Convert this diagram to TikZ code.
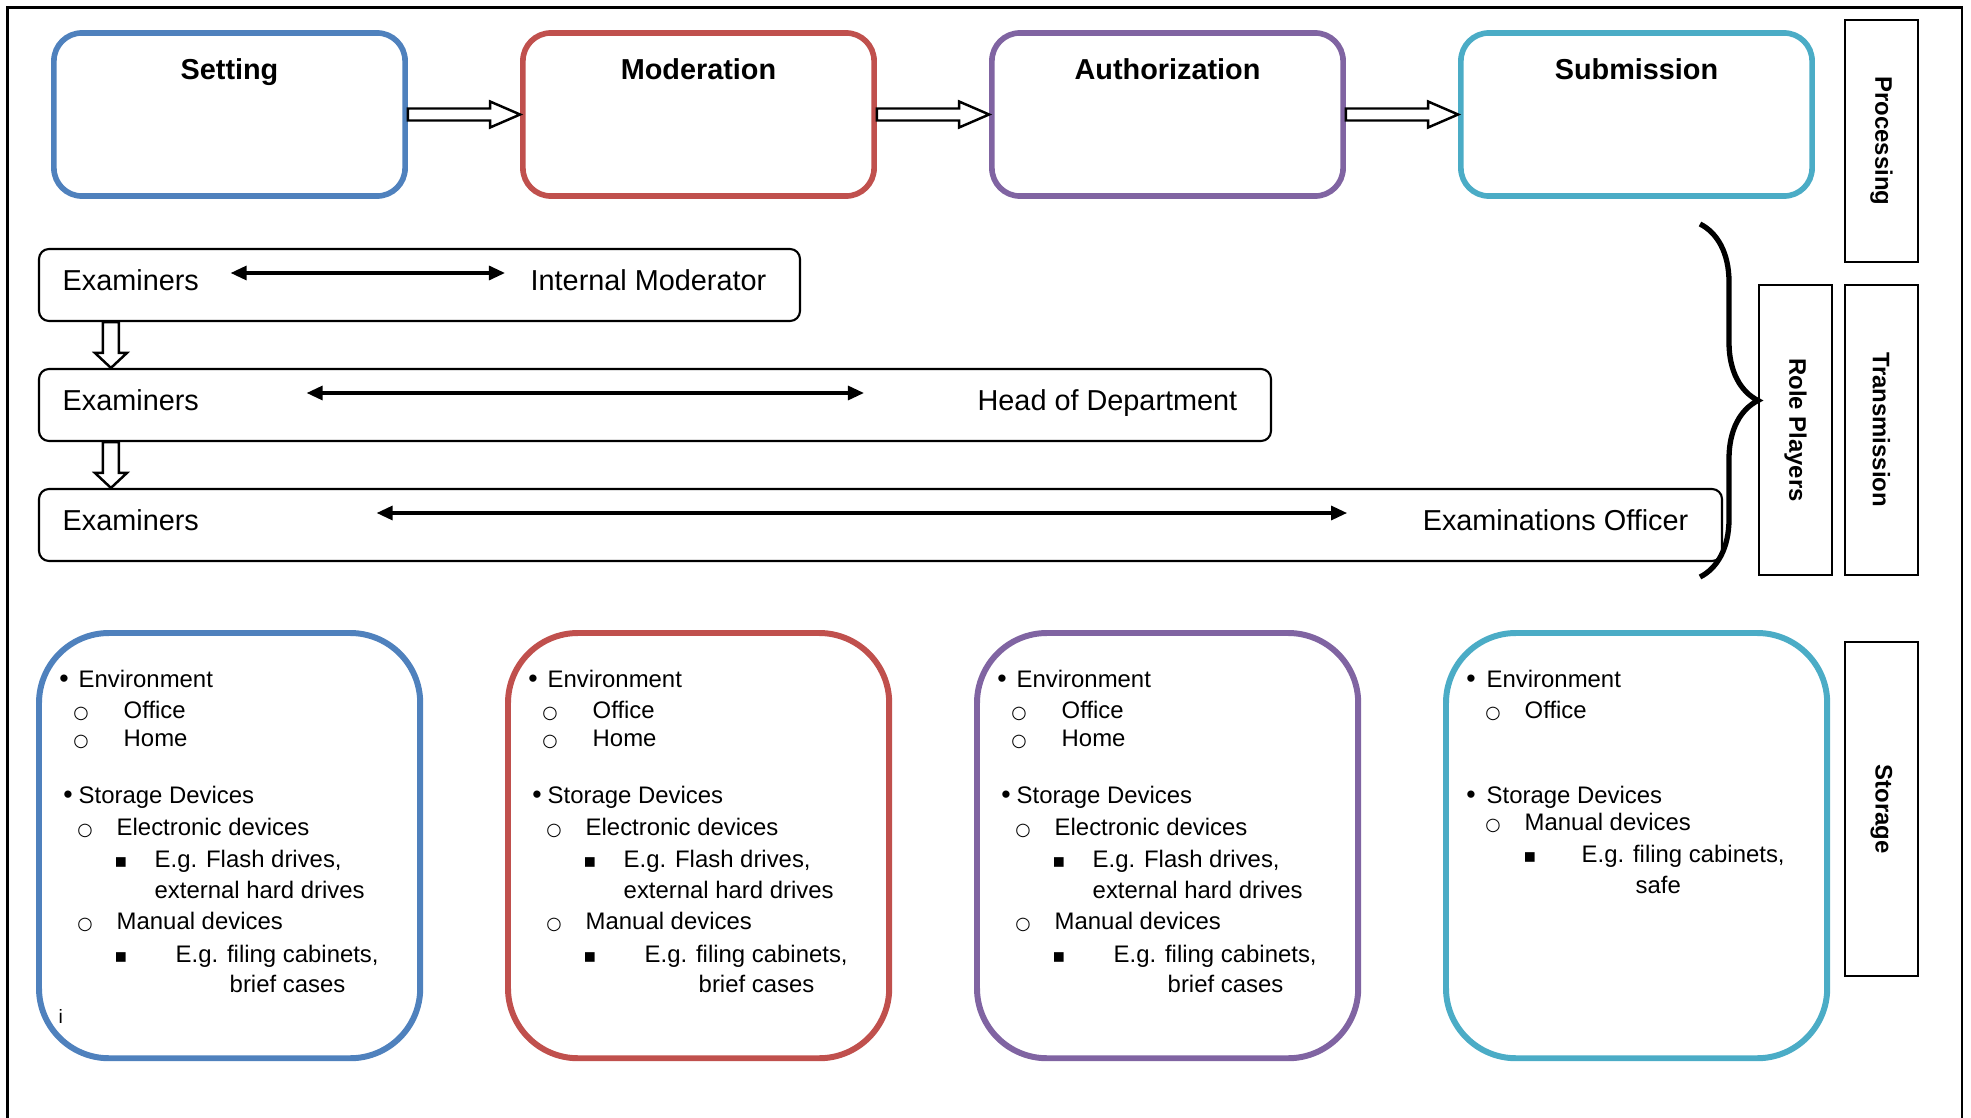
\documentclass[tikz,border=0pt]{standalone}
\usepackage{fontspec}
\setmainfont{Liberation Sans}
\newfontfamily\symfnt{DejaVu Sans}
\usetikzlibrary{arrows.meta,calc,decorations.pathreplacing}

\definecolor{setblue}{RGB}{79,129,189}
\definecolor{modred}{RGB}{192,80,77}
\definecolor{authpurple}{RGB}{128,100,162}
\definecolor{subteal}{RGB}{75,172,198}

\tikzset{
  stagebox/.style={draw=#1, line width=1.6pt, rounded corners=0.28cm,
    minimum width=3.51cm, minimum height=1.63cm, inner sep=0},
  stagetitle/.style={font=\bfseries\fontsize{8.2}{10}\selectfont, anchor=base, inner sep=0},
  sidebox/.style={draw, line width=0.7pt, minimum height=0.73cm, inner sep=0,
    font=\bfseries\fontsize{6.8}{8}\selectfont, rotate=-90},
  rolebox/.style={draw, line width=0.6pt, rounded corners=0.1cm,
    minimum height=0.72cm, inner sep=0},
  roletext/.style={font=\fontsize{8.2}{10}\selectfont, inner sep=0},
  twoway/.style={line width=0.9pt, {Triangle[length=0.16cm,width=0.14cm]}-{Triangle[length=0.16cm,width=0.14cm]}},
  hollow/.style={draw, fill=white, line width=0.7pt, line join=miter},
  storebox/.style={draw=#1, line width=1.7pt, rounded corners=0.7cm, anchor=north west,
    outer sep=0, inner sep=0, minimum width=3.81cm, minimum height=4.25cm},
  storetext/.style={font=\fontsize{6.8}{8}\selectfont, anchor=base west, inner sep=0},
  dot/.style={font=\fontsize{7.6}{8}\selectfont, anchor=base, inner sep=0},
  ring/.style={font=\symfnt\fontsize{5}{6}\selectfont, anchor=base, inner sep=0},
  sqr/.style={font=\symfnt\fontsize{5.5}{6}\selectfont, anchor=base, inner sep=0}
}

% hollow block arrows between named nodes
\newcommand\blockright[2]{%
  \path (#1.east) coordinate (s) (#2.west) coordinate (t);
  \draw[hollow] ($(s)+(0,-6)$) -- ($(t)+(-30,-6)$) -- ($(t)+(-30,-13)$) -- (t)
    -- ($(t)+(-30,13)$) -- ($(t)+(-30,6)$) -- ($(s)+(0,6)$) -- cycle;}
\newcommand\blockdown[2]{%
  \path ($(#1.south west)+(73,0)$) coordinate (s) ($(#2.north west)+(73,0)$) coordinate (t);
  \draw[hollow] ($(s)+(-8,0)$) -- ($(t)+(-8,-15)$) -- ($(t)+(-16,-15)$) -- (t)
    -- ($(t)+(16,-15)$) -- ($(t)+(8,-15)$) -- ($(s)+(8,0)$) -- cycle;}

\begin{document}
\begin{tikzpicture}[x=0.01cm, y=-0.01cm]
    \useasboundingbox (0,0) rectangle (1971,1118);
    \draw[line width=0.7pt] (7.5,1118) -- (7.5,7.5) -- (1962,7.5) -- (1962,1118);
    % Processing stages
    \foreach \name/\txt/\col [count=\i from 0] in
      {set/Setting/setblue, mod/Moderation/modred, auth/Authorization/authpurple, sub/Submission/subteal}
    {
      \node[stagebox=\col] (\name) at (229.5+469*\i,114.5) {};
      \node[stagetitle] (\name-title) at ($(\name.north)+(0,49)$) {\txt};
    }
    \blockright{set}{mod}
    \blockright{mod}{auth}
    \blockright{auth}{sub}
    % Role players
    \foreach \r/\w/\who/\gl/\gr in
      {1/761/Internal Moderator/31/25, 2/1232/Head of Department/107/113, 3/1683/Examinations Officer/177/75}
    {
      \node[rolebox, minimum width=\w*0.01cm] (row\r) at (39+\w/2,165+120*\r) {};
      \node[roletext, anchor=base west] (ex\r) at (62,170+120*\r) {Examiners};
      \node[roletext, anchor=base east] (who\r) at (6+\w,170+120*\r) {\who};
      \draw[twoway] ([shift={(\gl,-17)}]ex\r.base east) -- ([shift={(-\gr,-17)}]who\r.base west);
    }
    \blockdown{row1}{row2}
    \blockdown{row2}{row3}
    \coordinate (brace-top) at (1700,224);
    \coordinate (brace-bot) at (1700,577);
    \draw[line width=1.5pt, decorate, decoration={brace, amplitude=0.58cm}] (brace-top) -- (brace-bot);
    % Side labels
    \node[sidebox, minimum width=2.42cm] (proc) at (1881.5,141) {Processing};
    \node[sidebox, minimum width=2.90cm] (trans) at (1881.5,430) {Transmission};
    \node[sidebox, minimum width=2.90cm] (roles) at (1795.5,430) {Role Players};
    \node[sidebox, minimum width=3.34cm] (stor) at (1881.5,809) {Storage};
    % Storage
    \foreach \x/\col in {39/setblue, 508/modred, 977/authpurple}
    {
      \begin{scope}[shift={(\x,633)}]
        \node[storebox=\col] (store\x) at (0,0) {};
        \node[dot] (ba\x) at (25,54) {•};
        \node[storetext] (env\x) at (39,54) {Environment};
        \node[ring] (bb\x) at (42,85) {○};
        \node[storetext] (off\x) at (84,85) {Office};
        \node[ring] (bc\x) at (42,113) {○};
        \node[storetext] (home\x) at (84,113) {Home};
        \node[dot] (bd\x) at (29,170) {•};
        \node[storetext] (dev\x) at (39,170) {Storage Devices};
        \node[ring] (be\x) at (46,202) {○};
        \node[storetext] (elec\x) at (77,202) {Electronic devices};
        \node[sqr] (bf\x) at (82,234) {▪};
        \node[storetext] (flash\x) at (115,234) {E.g. Flash drives,};
        \node[storetext] (hdd\x) at (115,265) {external hard drives};
        \node[ring] (bg\x) at (46,296) {○};
        \node[storetext] (man\x) at (77,296) {Manual devices};
        \node[sqr] (bh\x) at (82,329) {▪};
        \node[storetext] (cab\x) at (136,329) {E.g. filing cabinets,};
        \node[storetext] (case\x) at (190,359) {brief cases};
      \end{scope}
    }
    \node[storetext, font=\fontsize{5.5}{6}\selectfont] (mark) at (58,1023) {i};
    \begin{scope}[shift={(1446,633)}]
      \node[storebox=subteal] (store-sub) at (0,0) {};
      \node[dot] (ba-sub) at (25,54) {•};
      \node[storetext] (env-sub) at (40,54) {Environment};
      \node[ring] (bb-sub) at (47,85) {○};
      \node[storetext] (off-sub) at (78,85) {Office};
      \node[dot] (bd-sub) at (25,170) {•};
      \node[storetext] (dev-sub) at (40,170) {Storage Devices};
      \node[ring] (bg-sub) at (47,197) {○};
      \node[storetext] (man-sub) at (78,197) {Manual devices};
      \node[sqr] (bh-sub) at (84,229) {▪};
      \node[storetext] (cab-sub) at (135,229) {E.g. filing cabinets,};
      \node[storetext] (safe-sub) at (189,260) {safe};
    \end{scope}
\end{tikzpicture}
\end{document}
